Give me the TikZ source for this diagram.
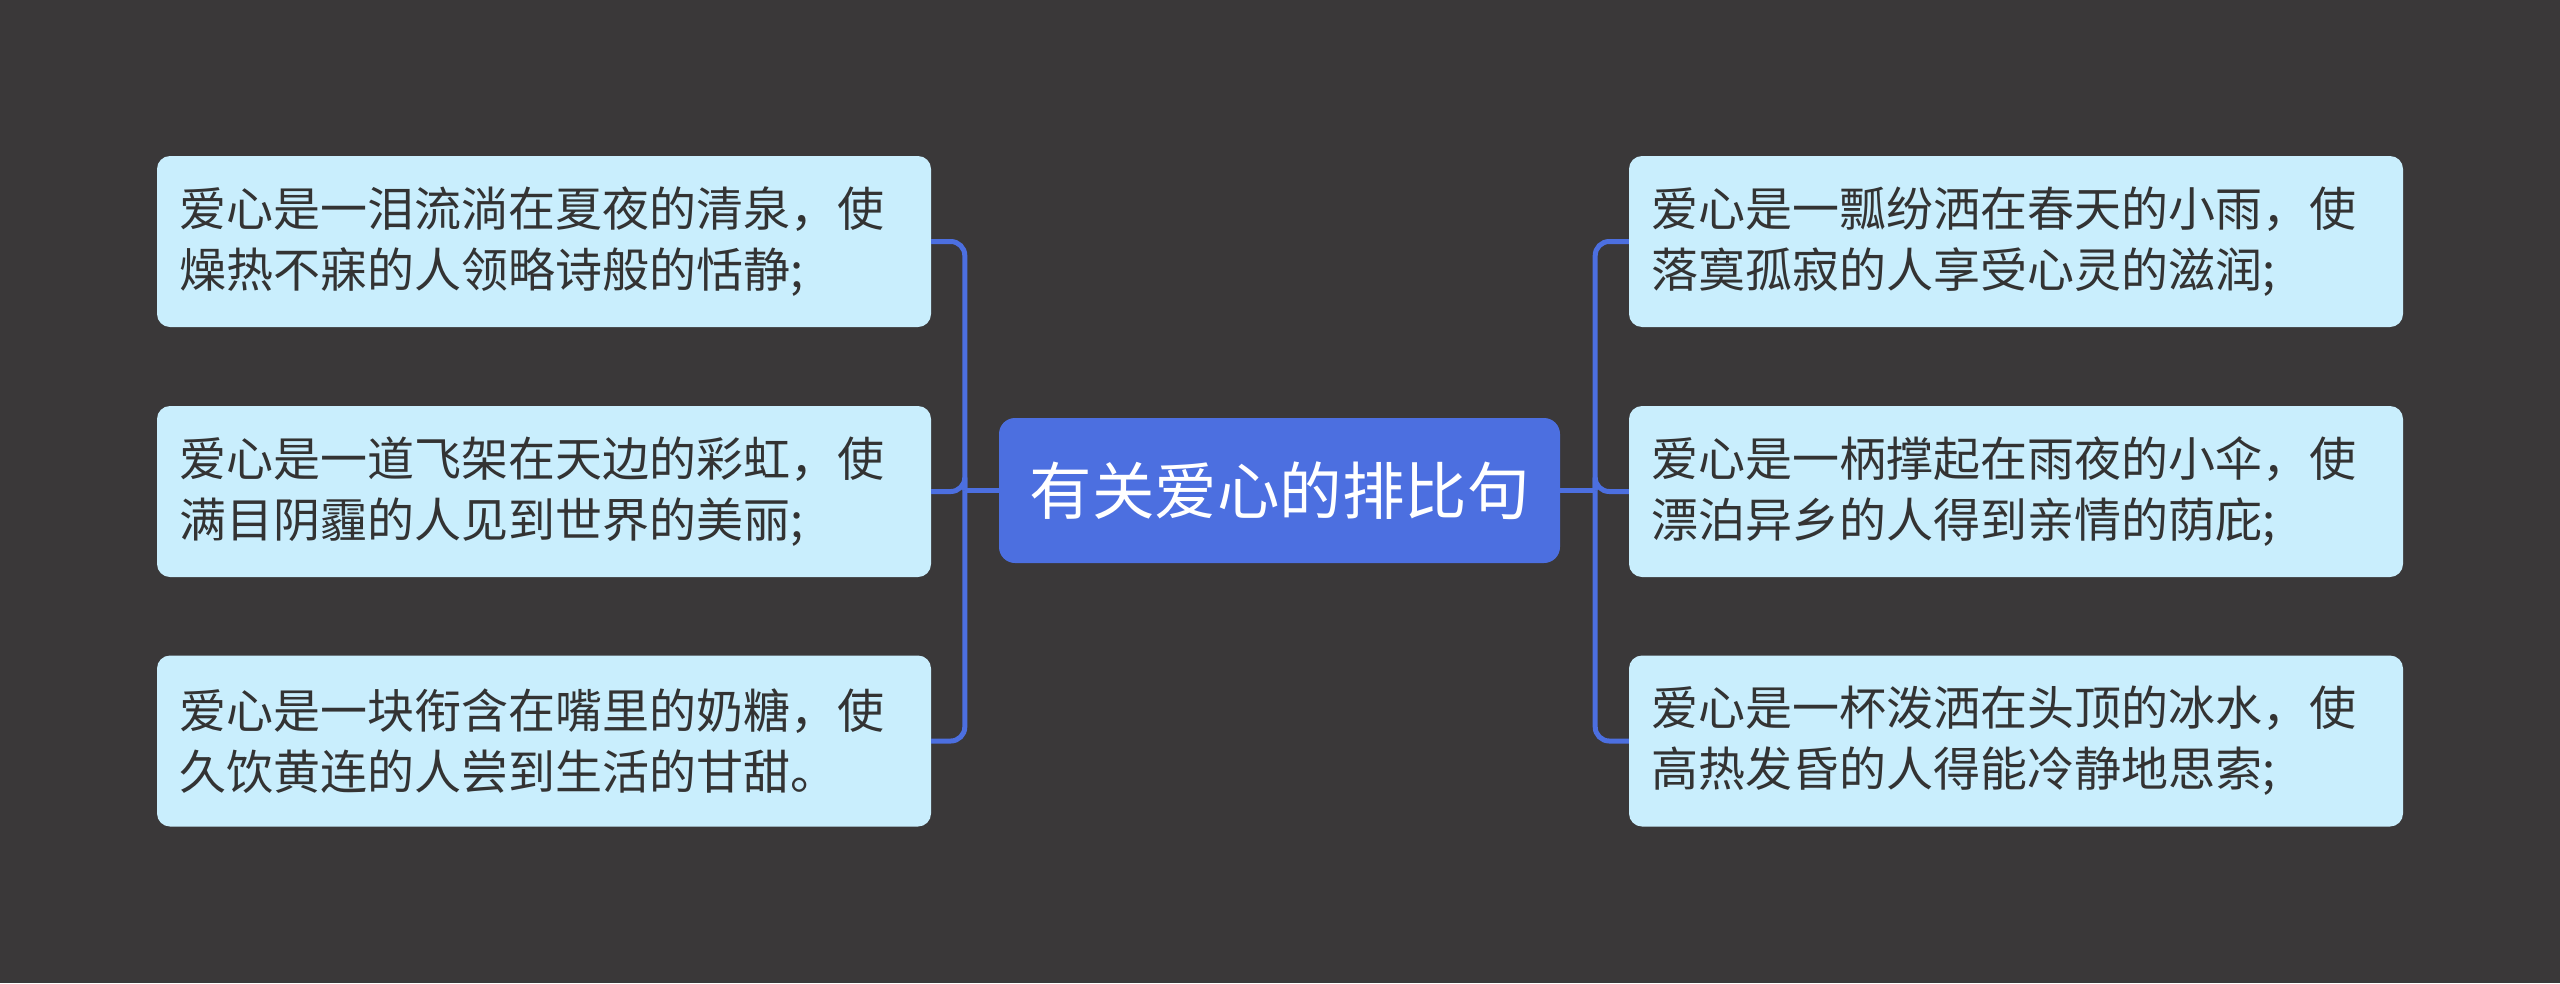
\documentclass[tikz,border=0pt]{standalone}
\usepackage{fontspec}
\setmainfont{Noto Sans CJK SC}
\usepackage{xcolor}
\usetikzlibrary{positioning}
\definecolor{bgdark}{RGB}{58,56,57}
\definecolor{leafcyan}{RGB}{201,238,253}
\definecolor{leaftext}{RGB}{51,51,51}
\definecolor{rootblue}{RGB}{76,111,224}

\begin{document}
\begin{tikzpicture}[x=1pt,y=-1pt,
  leaf/.style={fill=leafcyan, text=leaftext, rounded corners=13pt,
    minimum height=171pt, text width=730pt, inner xsep=22pt, align=left,
    font=\fontsize{47}{61}\selectfont},
  root/.style={fill=rootblue, text=white, rounded corners=16pt,
    minimum width=561pt, minimum height=145pt,
    font=\fontsize{62.5}{72}\selectfont},
  link/.style={draw=rootblue, line width=5pt, rounded corners=14pt}]
\fill[bgdark] (0,0) rectangle (2560,983);
\useasboundingbox (0,0) rectangle (2560,983);
% centre
\node[root] (root) at (1279.5,490.5) {有关爱心的排比句};
% left side
\node[leaf] (l1) at (544,241.5) {爱心是一泪流淌在夏夜的清泉，使\\燥热不寐的人领略诗般的恬静;};
\node[leaf] (l2) at (544,491.5) {爱心是一道飞架在天边的彩虹，使\\满目阴霾的人见到世界的美丽;};
\node[leaf] (l3) at (544,741) {爱心是一块衔含在嘴里的奶糖，使\\久饮黄连的人尝到生活的甘甜。};
% right side
\node[leaf] (r1) at (2016,241.5) {爱心是一瓢纷洒在春天的小雨，使\\落寞孤寂的人享受心灵的滋润;};
\node[leaf] (r2) at (2016,491.5) {爱心是一柄撑起在雨夜的小伞，使\\漂泊异乡的人得到亲情的荫庇;};
\node[leaf] (r3) at (2016,741) {爱心是一杯泼洒在头顶的冰水，使\\高热发昏的人得能冷静地思索;};
% connectors
\draw[link] (root.west) -- ++(-34,0) coordinate (lj);
\draw[link] (root.east) -- ++(35,0) coordinate (rj);
\foreach \n in {l1,l2,l3} \draw[link] (lj) |- (\n.east);
\foreach \n in {r1,r2,r3} \draw[link] (rj) |- (\n.west);
\end{tikzpicture}
\end{document}
